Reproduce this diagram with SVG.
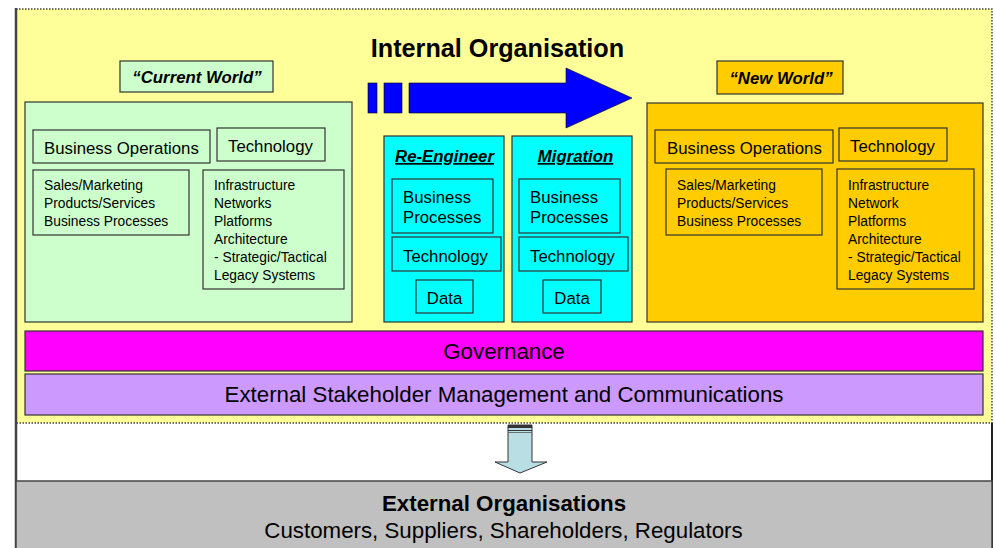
<svg xmlns="http://www.w3.org/2000/svg" width="996" height="548" viewBox="0 0 996 548">
<style>
text{font-family:"Liberation Sans",Arial,sans-serif;fill:#000}
.box{stroke:#333;stroke-width:1.2}
.g{fill:#CCFFCC}
.c{fill:#00FFFF}
.o{fill:#FFCC00}
.t16{font-size:16.8px}
.t13{font-size:13.8px}
.hb{font-size:16.8px;font-weight:bold;font-style:italic}
.big{font-size:22.3px}
.mid{text-anchor:middle}
</style>
<rect width="996" height="548" fill="#fff"/>
<g id="frame">
<rect x="16" y="9" width="976" height="414" fill="#FFFF99" stroke="#444" stroke-width="1.5" stroke-dasharray="1.5,1.5"/>
<line x1="16" y1="8" x2="16" y2="548" stroke="#444" stroke-width="2.5"/>
<line x1="992" y1="423" x2="992" y2="548" stroke="#222" stroke-width="2"/>
</g>
<g id="title"><text x="497.5" y="57" class="mid" style="font-size:25.2px;font-weight:bold">Internal Organisation</text></g>
<g id="current-label"><rect class="box g" x="120" y="61" width="153" height="31"/><text x="197" y="83" class="hb mid">“Current World”</text></g>
<g id="new-label"><rect class="box o" x="717" y="61" width="126" height="33"/><text x="781" y="84" class="hb mid">“New World”</text></g>
<g id="current-world">
<rect class="box g" x="25" y="102" width="327" height="220"/>
<rect class="box g" x="33" y="130" width="177" height="33"/><text x="44" y="154" class="t16">Business Operations</text>
<rect class="box g" x="217" y="128" width="108" height="33"/><text x="228" y="152" class="t16">Technology</text>
<rect class="box g" x="33" y="170" width="156" height="65"/>
<text x="44" y="190" class="t13">Sales/Marketing</text><text x="44" y="208" class="t13">Products/Services</text><text x="44" y="226" class="t13">Business Processes</text>
<rect class="box g" x="203" y="170" width="141" height="119"/>
<text x="214" y="190" class="t13">Infrastructure</text><text x="214" y="208" class="t13">Networks</text><text x="214" y="226" class="t13">Platforms</text><text x="214" y="244" class="t13">Architecture</text><text x="214" y="262" class="t13">- Strategic/Tactical</text><text x="214" y="280" class="t13">Legacy Systems</text>
</g>
<g id="new-world">
<rect class="box o" x="647" y="103" width="336" height="219"/>
<rect class="box o" x="655" y="130" width="178" height="33"/><text x="667" y="154" class="t16">Business Operations</text>
<rect class="box o" x="839" y="128" width="108" height="33"/><text x="850" y="152" class="t16">Technology</text>
<rect class="box o" x="666" y="169" width="156" height="66"/>
<text x="677" y="190" class="t13">Sales/Marketing</text><text x="677" y="208" class="t13">Products/Services</text><text x="677" y="226" class="t13">Business Processes</text>
<rect class="box o" x="837" y="169" width="137" height="120"/>
<text x="848" y="190" class="t13">Infrastructure</text><text x="848" y="208" class="t13">Network</text><text x="848" y="226" class="t13">Platforms</text><text x="848" y="244" class="t13">Architecture</text><text x="848" y="262" class="t13">- Strategic/Tactical</text><text x="848" y="280" class="t13">Legacy Systems</text>
</g>
<g id="re-engineer">
<rect class="box c" x="384" y="136" width="120" height="186"/>
<text x="444.5" y="162" class="hb mid" text-decoration="underline">Re-Engineer</text>
<rect class="box c" x="392" y="179" width="101" height="54"/><text x="403" y="203" class="t16">Business</text><text x="403" y="223" class="t16">Processes</text>
<rect class="box c" x="392" y="237" width="109" height="34"/><text x="403" y="262" class="t16">Technology</text>
<rect class="box c" x="416" y="280" width="57" height="33"/><text x="444.5" y="304" class="t16 mid">Data</text>
</g>
<g id="migration">
<rect class="box c" x="512" y="136" width="120" height="186"/>
<text x="575.5" y="162" class="hb mid" text-decoration="underline">Migration</text>
<rect class="box c" x="519" y="179" width="101" height="54"/><text x="530" y="203" class="t16">Business</text><text x="530" y="223" class="t16">Processes</text>
<rect class="box c" x="519" y="237" width="109" height="34"/><text x="530" y="262" class="t16">Technology</text>
<rect class="box c" x="543" y="280" width="58" height="33"/><text x="572" y="304" class="t16 mid">Data</text>
</g>
<g id="governance"><rect class="box" x="25" y="331" width="958" height="40" fill="#FF00FF"/><text x="504" y="359" class="mid big">Governance</text></g>
<g id="stakeholder"><rect class="box" x="25" y="374" width="958" height="41" fill="#CC99FF"/><text x="504" y="402" class="mid big">External Stakeholder Management and Communications</text></g>
<g id="external"><rect x="16" y="481" width="976" height="70" fill="#C0C0C0" stroke="#444" stroke-width="1.5"/>
<text x="504" y="511" class="mid big" style="font-weight:bold">External Organisations</text>
<text x="503.5" y="538" class="mid big">Customers, Suppliers, Shareholders, Regulators</text></g>
<g id="connectors">
<rect x="368" y="83" width="9" height="30" fill="#0000FF" stroke="#000" stroke-width="0.6"/>
<rect x="384" y="83" width="18" height="30" fill="#0000FF" stroke="#000" stroke-width="0.6"/>
<polygon points="409,83 566,83 566,68 632,98 566,128 566,113 409,113" fill="#0000FF" stroke="#000" stroke-width="0.6"/>
<polygon points="508,425 532,425 532,462 547,462 520,473 495,462 508,462" fill="#B9DFE4" stroke="#333" stroke-width="1"/>
<rect x="508" y="425" width="24" height="3" fill="#333"/>
<line x1="508" y1="430.5" x2="532" y2="430.5" stroke="#333" stroke-width="1"/>
<line x1="508" y1="432.5" x2="532" y2="432.5" stroke="#555" stroke-width="0.8"/>
</g>
</svg>
